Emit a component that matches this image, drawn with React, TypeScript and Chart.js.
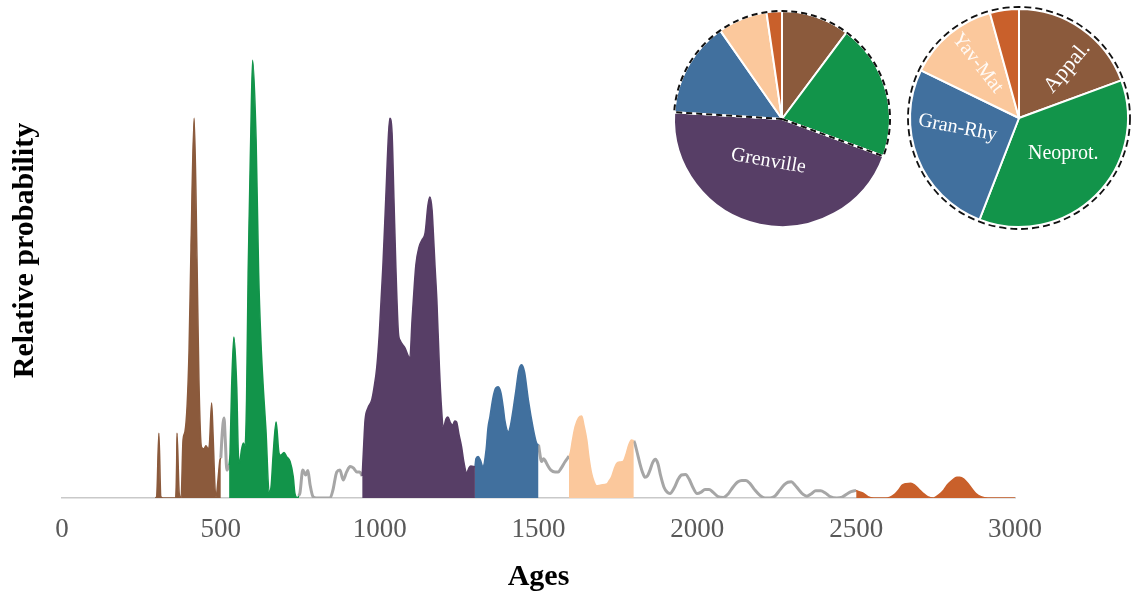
import React, { useEffect, useRef } from 'react';
import { Chart, registerables } from 'chart.js';

Chart.register(...registerables);

const FONT = '"Liberation Serif", "Times New Roman", Times, serif';

// ---------- text ----------
const xAxisTitle = 'Ages';
const yAxisTitle = 'Relative probability';
const tickValues = [0, 500, 1000, 1500, 2000, 2500, 3000];

// ---------- provinces ----------
const provinceNames = ['Appal.', 'Neoprot.', 'Grenville', 'Gran-Rhy', 'Yav-Mat', 'Archean'];
const provinceColors = ['#8b5a3c', '#12944a', '#573e66', '#41709e', '#fbc89c', '#c9602b'];
const curveGray = '#a6a6a6';

// ---------- probability curve, coloured parts ----------
const appalAges = [293, 298, 305, 311, 318, 356, 361, 362, 369, 375, 381, 387, 394, 400, 406, 416, 425, 431, 439, 447, 453, 460, 464, 471, 475, 482, 485, 491, 497, 500];
const appalValues = [0, 0.3, 14.4, 0.3, 0, 0, 8, 14.4, 1, 0, 12.9, 14.7, 20.7, 32.9, 55.1, 84.4, 52.9, 26.2, 11.3, 10.9, 11.6, 10.9, 11.8, 21.1, 15.1, 1.8, 0.2, 4, 8.4, 8.9];

const neoprotAges = [526, 529, 534, 541, 550, 555, 559, 565, 571, 576, 581, 586, 594, 600, 611, 619, 626, 634, 642, 652, 658, 665, 674, 683, 688, 699, 707, 718, 728, 733, 742, 745];
const neoprotValues = [7.3, 10, 24.7, 35.8, 24.7, 10, 7.8, 10.7, 12.2, 11.3, 21.8, 50, 79.6, 97.3, 79.6, 50, 35.1, 24, 15.1, 1.3, 2.4, 10, 16.9, 10, 9.5, 10.1, 9.2, 8.1, 4.7, 1.1, 0, 0.5];

const grenvilleAges = [945, 949, 954, 963, 975, 982, 991, 999, 1010, 1019, 1028, 1032, 1039, 1045, 1051, 1059, 1064, 1080, 1095, 1102, 1106, 1114, 1124, 1133, 1143, 1152, 1158, 1165, 1169, 1174, 1180, 1188, 1195, 1200, 1209, 1215, 1223, 1230, 1236, 1242, 1250, 1258, 1265, 1274, 1281, 1287, 1300];
const grenvilleValues = [4.9, 10.7, 17.3, 20, 21.8, 24.4, 29.1, 36.7, 51.3, 66.2, 81.1, 84.4, 81.1, 66.2, 51.3, 36.7, 35.1, 33.3, 31.1, 39.6, 44, 51.8, 55.8, 57.3, 58.9, 65.1, 66.9, 64, 58.9, 51.8, 44, 29.1, 19.6, 15.6, 17.6, 18, 16.7, 16.2, 17.1, 16.9, 14, 11.3, 8, 5.6, 6.7, 7.1, 6.9];

const granRhyAges = [1300, 1303, 1310, 1317, 1325, 1335, 1341, 1347, 1357, 1365, 1373, 1382, 1390, 1394, 1405, 1412, 1420, 1429, 1438, 1447, 1456, 1468, 1483, 1494, 1500];
const granRhyValues = [6.9, 8.7, 9.2, 8.4, 7, 10.7, 15.6, 18, 22.4, 24.4, 24.7, 23.3, 19.6, 17.3, 14.7, 16.2, 19.6, 24, 28.4, 29.6, 28, 21.8, 15.6, 12.2, 11.8];

const yavMatAges = [1596, 1600, 1607, 1615, 1626, 1636, 1643, 1652, 1659, 1667, 1675, 1683, 1697, 1715, 1722, 1730, 1738, 1746, 1756, 1766, 1775, 1784, 1793, 1800];
const yavMatValues = [9.3, 10, 12.9, 15.8, 17.8, 18.2, 16.2, 12.9, 8.9, 5.5, 3.6, 2.7, 2.9, 3.1, 3.8, 4.7, 6.4, 7.7, 8, 8.1, 9.6, 11.8, 12.9, 12.7];

const archeanAges = [2500, 2509, 2522, 2537, 2556, 2588, 2607, 2622, 2635, 2644, 2657, 2672, 2685, 2697, 2710, 2725, 2744, 2760, 2776, 2788, 2803, 2817, 2826, 2839, 2852, 2865, 2877, 2893, 2915, 2953, 3000];
const archeanValues = [1.7, 1.4, 1.1, 0.3, 0, 0, 0.2, 0.9, 1.9, 2.8, 3.2, 3.3, 2.8, 2, 1.1, 0.3, 0, 0.7, 1.8, 3, 4, 4.6, 4.6, 4.2, 3.2, 2, 1, 0.3, 0, 0, 0];

// ---------- probability curve, gray parts between provinces ----------
const gapAAges = [500, 504, 510, 514, 519, 526];
const gapAValues = [8.9, 14, 17.8, 12.9, 6.2, 7.3];

const gapBAges = [745, 749, 758, 767, 774, 781, 790, 800, 812, 830, 844, 853, 865, 875, 885, 896, 907, 917, 928, 937, 945];
const gapBValues = [0.5, 1.1, 6.2, 5.1, 6.1, 2.9, 0.3, 0, 0, 0, 0, 1.8, 5.8, 6.2, 4, 5.8, 7, 6.7, 5.8, 5.8, 4.9];

const gapCAges = [1500, 1510, 1516, 1520, 1530, 1539, 1552, 1562, 1572, 1583, 1596];
const gapCValues = [11.8, 8.1, 8.7, 8.4, 7.1, 6.2, 5.8, 5.8, 6.7, 8, 9.3];

const gapDAges = [1800, 1803, 1811, 1819, 1827, 1835, 1843, 1851, 1859, 1868, 1876, 1884, 1895, 1905, 1914, 1927, 1940, 1950, 1963, 1974, 1987, 1999, 2012, 2024, 2037, 2049, 2065, 2082, 2097, 2112, 2128, 2140, 2153, 2166, 2181, 2197, 2213, 2229, 2244, 2260, 2273, 2285, 2296, 2307, 2320, 2333, 2345, 2358, 2373, 2388, 2403, 2418, 2439, 2456, 2471, 2484, 2500];
const gapDValues = [12.7, 12.2, 10, 7.7, 5.8, 4.6, 4.9, 6.2, 7.8, 8.6, 7.6, 5.1, 2.4, 1.3, 1, 2.2, 4.2, 5.1, 5.2, 4.2, 2.2, 1, 1.3, 1.9, 1.9, 1.3, 0.3, 0.1, 0.9, 2.4, 3.6, 3.9, 3.9, 3.2, 1.8, 0.6, 0, 0, 0.4, 1.8, 2.9, 3.5, 3.6, 2.9, 1.8, 0.8, 0.4, 0.9, 1.6, 1.6, 1.1, 0.3, 0, 0.2, 0.9, 1.4, 1.7];

// ---------- pie shares (%), order as provinceNames ----------
const pieLeftShares = [10.2, 20.4, 45.4, 14.3, 7.4, 2.3];
const pieRightShares = [19.4, 36.5, 0, 26.3, 13.5, 4.3];

// label placement inside slices (style, not data)
const pieLeftLabelSpots = [{ index: 2, frac: 0.41, shift: 6, rotate: 10, size: 20, color: '#ffffff' }];
const pieRightLabelSpots = [
  { index: 0, frac: 0.64, shift: 8.8, rotate: -50, size: 22, color: '#ffffff' },
  { index: 1, frac: 0.52, shift: -6.8, rotate: 0, size: 20, color: '#ffffff' },
  { index: 3, frac: 0.57, shift: 12.3, rotate: 11, size: 20, color: '#ffffff' },
  { index: 4, frac: 0.63, shift: 2.7, rotate: 52, size: 20, color: 'rgba(255,255,255,0.9)' },
];

const toPoints = (ages: number[], values: number[]) => ages.map((x, i) => ({ x, y: values[i] }));

const filledParts = [
  { ages: appalAges, values: appalValues, colorIndex: 0 },
  { ages: neoprotAges, values: neoprotValues, colorIndex: 1 },
  { ages: grenvilleAges, values: grenvilleValues, colorIndex: 2 },
  { ages: granRhyAges, values: granRhyValues, colorIndex: 3 },
  { ages: yavMatAges, values: yavMatValues, colorIndex: 4 },
  { ages: archeanAges, values: archeanValues, colorIndex: 5 },
];
const grayParts = [
  { ages: gapAAges, values: gapAValues },
  { ages: gapBAges, values: gapBValues },
  { ages: gapCAges, values: gapCValues },
  { ages: gapDAges, values: gapDValues },
];

const pieDecorPlugin = {
  id: 'pieDecor',
  afterDatasetsDraw(chart: any, _args: any, opts: any) {
    const ctx = chart.ctx;
    const arcs = chart.getDatasetMeta(0).data;
    if (!arcs.length) return;
    const a0 = arcs[0];
    const cx = a0.x;
    const cy = a0.y;
    const r = a0.outerRadius;
    ctx.save();
    if (opts.outline === 'full') {
      ctx.beginPath();
      ctx.arc(cx, cy, r + 2, 0, Math.PI * 2);
      ctx.setLineDash([7, 4]);
      ctx.lineWidth = 1.8;
      ctx.strokeStyle = '#111';
      ctx.stroke();
    } else if (opts.outline === 'except') {
      const ex = arcs[opts.exceptIndex];
      const path = () => {
        ctx.beginPath();
        ctx.moveTo(cx, cy);
        ctx.lineTo(cx + Math.cos(ex.endAngle) * r, cy + Math.sin(ex.endAngle) * r);
        ctx.arc(cx, cy, r, ex.endAngle, ex.startAngle + Math.PI * 2);
        ctx.closePath();
      };
      path();
      ctx.setLineDash([]);
      ctx.lineWidth = 2;
      ctx.strokeStyle = '#ffffff';
      ctx.stroke();
      path();
      ctx.setLineDash([6, 4]);
      ctx.lineWidth = 2;
      ctx.strokeStyle = '#111';
      ctx.stroke();
    }
    ctx.setLineDash([]);
    ctx.textAlign = 'center';
    ctx.textBaseline = 'middle';
    (opts.labels || []).forEach((spot: any) => {
      const arc = arcs[spot.index];
      const mid = (arc.startAngle + arc.endAngle) / 2 + (spot.shift * Math.PI) / 180;
      const px = cx + Math.cos(mid) * r * spot.frac;
      const py = cy + Math.sin(mid) * r * spot.frac;
      ctx.save();
      ctx.translate(px, py);
      ctx.rotate((spot.rotate * Math.PI) / 180);
      ctx.font = `${spot.size}px ${FONT}`;
      ctx.fillStyle = spot.color;
      ctx.fillText(provinceNames[spot.index], 0, 0);
      ctx.restore();
    });
    ctx.restore();
  },
};

function PieCanvas(props: { shares: number[]; radius: number; left: number; top: number; outline: string; exceptIndex?: number; labels: any[] }) {
  const ref = useRef<HTMLCanvasElement | null>(null);
  useEffect(() => {
    if (!ref.current) return;
    const chart = new Chart(ref.current, {
      type: 'pie',
      data: {
        labels: provinceNames,
        datasets: [
          {
            data: props.shares,
            backgroundColor: provinceColors,
            borderColor: '#ffffff',
            borderWidth: 2,
            radius: props.radius,
          } as any,
        ],
      },
      options: {
        animation: false,
        responsive: false,
        events: [],
        layout: { padding: 0 },
        plugins: {
          legend: { display: false },
          tooltip: { enabled: false },
          pieDecor: { outline: props.outline, exceptIndex: props.exceptIndex, labels: props.labels },
        } as any,
      },
      plugins: [pieDecorPlugin],
    });
    return () => chart.destroy();
  }, []);
  return (
    <canvas
      ref={ref}
      width={240}
      height={240}
      style={{ position: 'absolute', left: props.left, top: props.top, width: 240, height: 240 }}
    />
  );
}

export default function App() {
  const mainRef = useRef<HTMLCanvasElement | null>(null);

  useEffect(() => {
    if (!mainRef.current) return;
    const datasets: any[] = [];
    filledParts.forEach((p) => {
      const c = provinceColors[p.colorIndex];
      datasets.push({
        data: toPoints(p.ages, p.values),
        borderColor: c,
        backgroundColor: c,
        borderWidth: 1.5,
        fill: 'origin',
        pointRadius: 0,
        cubicInterpolationMode: 'monotone',
        order: 1,
      });
    });
    grayParts.forEach((p) => {
      datasets.push({
        data: toPoints(p.ages, p.values),
        borderColor: curveGray,
        borderWidth: 3,
        fill: false,
        pointRadius: 0,
        cubicInterpolationMode: 'monotone',
        order: 2,
      });
    });

    const chart = new Chart(mainRef.current, {
      type: 'line',
      data: { datasets },
      options: {
        animation: false,
        responsive: false,
        events: [],
        layout: { padding: { top: 3, right: 120, left: 0, bottom: 0 } },
        plugins: { legend: { display: false }, tooltip: { enabled: false } },
        scales: {
          x: {
            type: 'linear',
            min: 0,
            max: 3000,
            afterBuildTicks: (s: any) => {
              s.ticks = tickValues.map((v) => ({ value: v }));
            },
            afterFit: (s: any) => {
              s.height = 100;
            },
            grid: { display: false, drawTicks: false },
            border: { display: true, color: '#c9c9c9', width: 1.5 },
            ticks: {
              padding: 16,
              color: '#595959',
              maxRotation: 0,
              autoSkip: false,
              font: { family: FONT, size: 27 },
              callback: (v: any) => String(v),
            },
            title: {
              display: true,
              text: xAxisTitle,
              color: '#000',
              font: { family: FONT, size: 30, weight: 'bold' },
              padding: { top: 0, bottom: 3 },
            },
          },
          y: {
            min: 0,
            max: 110,
            afterFit: (s: any) => {
              s.width = 62;
            },
            grid: { display: false },
            border: { display: false },
            ticks: { display: false },
            title: {
              display: true,
              text: yAxisTitle,
              color: '#000',
              font: { family: FONT, size: 30, weight: 'bold' },
              padding: { top: 7, bottom: 0 },
            },
          },
        },
      } as any,
    });
    return () => chart.destroy();
  }, []);

  return (
    <div style={{ position: 'absolute', left: 0, top: 0, width: 1135, height: 598, overflow: 'hidden', background: '#ffffff' }}>
      <canvas ref={mainRef} width={1135} height={598} style={{ position: 'absolute', left: 0, top: 0, width: 1135, height: 598 }} />
      <PieCanvas shares={pieLeftShares} radius={108} left={662} top={-1} outline="except" exceptIndex={2} labels={pieLeftLabelSpots} />
      <PieCanvas shares={pieRightShares} radius={109} left={899} top={-2} outline="full" labels={pieRightLabelSpots} />
    </div>
  );
}
